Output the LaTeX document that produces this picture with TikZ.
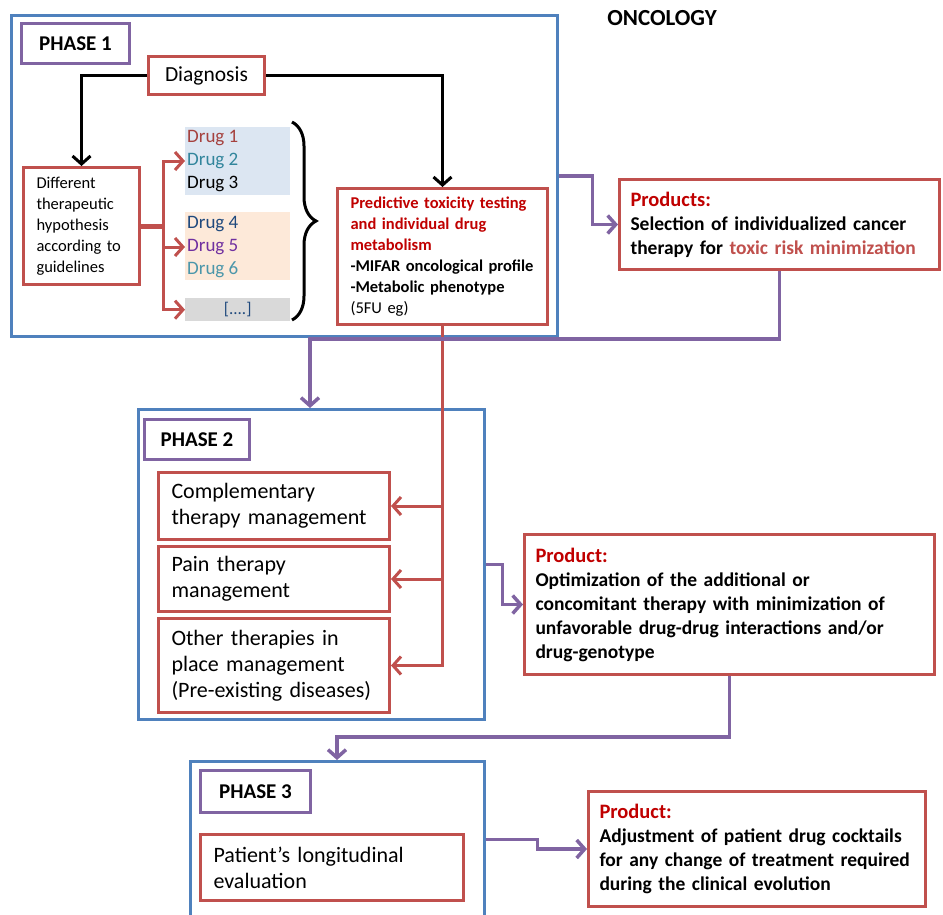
\documentclass[tikz,border=0pt]{standalone}
\usepackage{fontspec}
\setmainfont{Carlito}
\usetikzlibrary{arrows.meta,decorations.pathreplacing}

\definecolor{boxred}{RGB}{192,80,77}
\definecolor{frameblue}{RGB}{79,129,189}
\definecolor{phasepurple}{RGB}{128,100,162}
\definecolor{titlered}{RGB}{192,0,0}
\definecolor{drugred}{RGB}{165,65,62}
\definecolor{drugteal}{RGB}{49,133,156}
\definecolor{drugnavy}{RGB}{31,73,125}
\definecolor{drugviolet}{RGB}{112,48,160}
\definecolor{druggrey}{RGB}{75,150,170}
\definecolor{fillblue}{RGB}{220,230,242}
\definecolor{fillpeach}{RGB}{253,233,217}
\definecolor{fillgrey}{RGB}{217,217,217}

\begin{document}
\begin{tikzpicture}[x=1pt, y=-1pt,
    frame/.style={draw=frameblue, line width=2.5pt, anchor=north west, inner sep=0pt},
    phaselabel/.style={draw=phasepurple, line width=3pt, fill=white, anchor=north west, inner sep=0pt, font=\fontsize{21}{24}\selectfont\bfseries},
    box/.style={draw=boxred, line width=3pt, fill=white, anchor=north west, align=left, inner xsep=13pt, inner ysep=0pt},
    drug/.style={anchor=west, inner sep=2pt, font=\fontsize{19}{23}\selectfont},
    blackarrow/.style={draw=black, line width=3pt, -{Straight Barb[length=8pt,width=18pt]}},
    redarrow/.style={draw=boxred, line width=3pt, -{Straight Barb[length=8pt,width=18pt]}},
    purplearrow/.style={draw=phasepurple, line width=3.5pt, -{Straight Barb[length=8pt,width=18pt]}}]

    \useasboundingbox (0,0) rectangle (943,914);

    % Title
    \node[font=\fontsize{23}{26}\selectfont\bfseries] (title) at (662,18) {ONCOLOGY};

    % Phase frames
    \node[frame, minimum width=546pt, minimum height=321pt] (ph1) at (10,14) {};
    \node[frame, minimum width=346pt, minimum height=310pt] (ph2) at (137,408) {};
    \node[frame, minimum width=294pt, minimum height=156pt] (ph3) at (189,760) {};

    % Phase labels
    \node[phaselabel, minimum width=108pt, minimum height=40pt] (lab1) at (20,22) {PHASE 1};
    \node[phaselabel, minimum width=105pt, minimum height=40pt] (lab2) at (143,418) {PHASE 2};
    \node[phaselabel, minimum width=110pt, minimum height=42pt] (lab3) at (199,769) {PHASE 3};

    % Phase 1 boxes
    \node[box, text width=90pt, minimum height=38pt, align=center, font=\fontsize{21.5}{26}\selectfont] (diag) at (147,55) {Diagnosis};
    \node[box, text width=90pt, minimum height=117pt, font=\fontsize{16.5}{21}\selectfont] (diff) at (22,166)
        {Different\\therapeutic\\hypothesis\\according to\\guidelines};
    \node[box, text width=184pt, minimum height=136pt, font=\fontsize{16.5}{21}\selectfont\bfseries] (pred) at (336,187)
        {{\color{titlered}Predictive toxicity testing\\and individual drug\\metabolism}\\-MIFAR oncological profile\\-Metabolic phenotype\\{\mdseries(5FU eg)}};

    % Drug groups
    \fill[fillblue] (185,127) rectangle (290,195);
    \fill[fillpeach] (185,212) rectangle (290,280);
    \node[drug, text=drugred] (drug1) at (185,138) {Drug 1};
    \node[drug, text=drugteal] (drug2) at (185,161) {Drug 2};
    \node[drug, text=black] (drug3) at (185,184) {Drug 3};
    \node[drug, text=drugnavy] (drug4) at (185,224) {Drug 4};
    \node[drug, text=drugviolet] (drug5) at (185,247) {Drug 5};
    \node[drug, text=druggrey] (drug6) at (185,270) {Drug 6};
    \node[fill=fillgrey, anchor=north west, inner sep=0pt, minimum width=105pt, minimum height=23pt,
        text=drugnavy, font=\fontsize{17}{20}\selectfont] (more) at (185,298) {[....]};

    % Brace round the drugs
    \draw[decorate, decoration={brace, amplitude=24pt}, line width=3pt] (292,122) -- (292,320);

    % Products of phase 1
    \node[box, text width=298pt, minimum height=90pt, inner xsep=11pt, font=\fontsize{19.5}{24}\selectfont\bfseries] (prod1) at (618,178)
        {{\color{titlered}\fontsize{20.5}{24}\selectfont Products:}\\Selection of individualized cancer\\therapy for {\color{boxred}toxic risk minimization}};

    % Phase 2 boxes
    \node[box, text width=205pt, minimum height=67pt, font=\fontsize{22}{26}\selectfont] (comp) at (157,471)
        {Complementary\\therapy management};
    \node[box, text width=205pt, minimum height=65pt, font=\fontsize{22}{26}\selectfont] (pain) at (157,545)
        {Pain therapy\\management};
    \node[box, text width=205pt, minimum height=94pt, font=\fontsize{22}{26}\selectfont] (other) at (157,617)
        {Other therapies in\\place management\\(Pre-existing diseases)};

    % Product of phase 2
    \node[box, text width=388pt, minimum height=140pt, inner xsep=11pt, font=\fontsize{19.5}{24}\selectfont\bfseries] (prod2) at (523,533)
        {{\color{titlered}\fontsize{20.5}{24}\selectfont Product:}\\Optimization of the additional or\\concomitant therapy with minimization of\\unfavorable drug-drug interactions and/or\\drug-genotype};

    % Phase 3 box and its product
    \node[box, text width=237pt, minimum height=66pt, font=\fontsize{22}{26}\selectfont] (pat) at (199,833)
        {Patient's longitudinal\\evaluation};
    \node[box, text width=315pt, minimum height=115pt, inner xsep=11pt, font=\fontsize{19.5}{24}\selectfont\bfseries] (prod3) at (587,790)
        {{\color{titlered}\fontsize{20.5}{24}\selectfont Product:}\\Adjustment of patient drug cocktails\\for any change of treatment required\\during the clinical evolution};

    % Diagnosis to hypothesis and testing
    \draw[blackarrow] (diag.west) -| (diff.north);
    \draw[blackarrow] (diag.east) -| (pred.north);

    % Hypothesis to the drugs
    \coordinate (split) at (diff.east -| 163,0);
    \draw[boxred, line width=5pt] (diff.east) -- (split);
    \draw[redarrow] (split) |- (drug2.west);
    \draw[redarrow] (split) |- (drug5.west);
    \draw[redarrow] (split) |- (more.west);

    % Testing to the phase 2 boxes
    \draw[redarrow] (pred.south) |- (comp.east);
    \draw[redarrow] (pred.south) |- (pain.east);
    \draw[redarrow] (pred.south) |- (other.east);

    % Phases to products and on
    \draw[purplearrow] (ph1.east) -- ++(34,0) |- (prod1.west);
    \coordinate (turn1) at (310,339);
    \draw[purplearrow] (prod1.south) |- (turn1) -- (turn1 |- ph2.north);
    \draw[purplearrow] (ph2.east) -- ++(17,0) |- (prod2.west);
    \coordinate (turn2) at (337,737);
    \draw[purplearrow] (prod2.south) |- (turn2) -- (turn2 |- ph3.north);
    \draw[purplearrow] (ph3.east) -- ++(52,0) |- (prod3.west);
\end{tikzpicture}
\end{document}
